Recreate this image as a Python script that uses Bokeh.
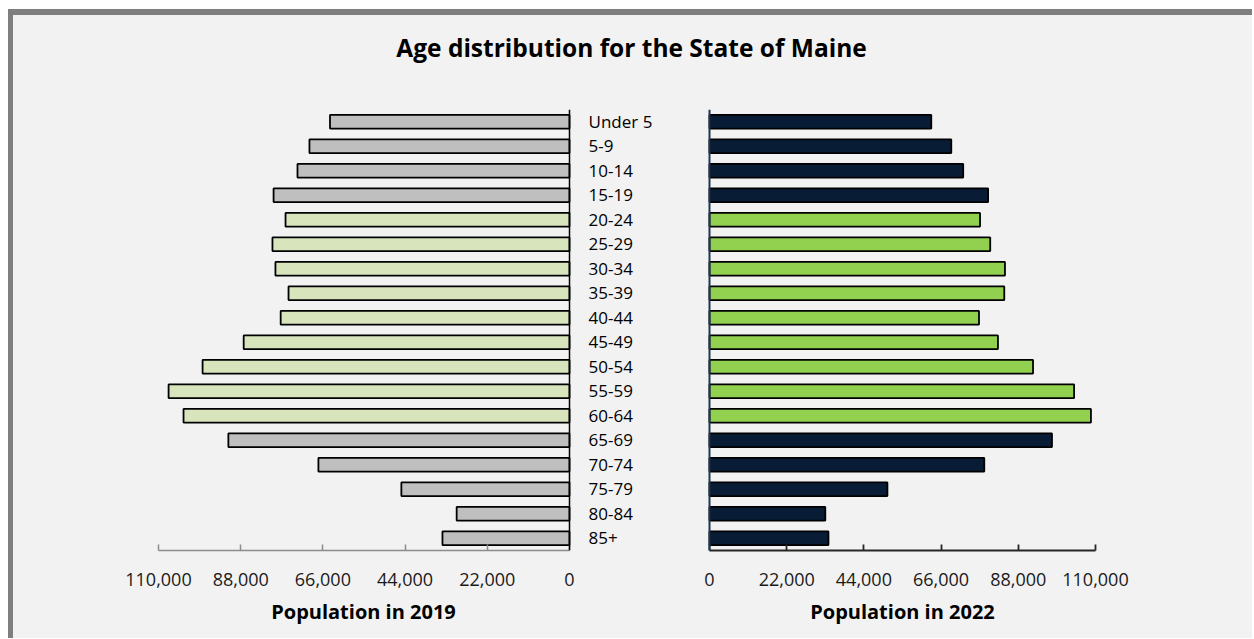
from bokeh.plotting import figure
from bokeh.layouts import column, row
from bokeh.models import Range1d, FactorRange, FixedTicker, NumeralTickFormatter, Span
from bokeh.core.properties import value
from bokeh.embed import file_html
from bokeh.resources import INLINE

# ---- data ----
title_text = "Age distribution for the State of Maine"
ages = ["Under 5", "5-9", "10-14", "15-19", "20-24", "25-29", "30-34", "35-39",
        "40-44", "45-49", "50-54", "55-59", "60-64", "65-69", "70-74", "75-79",
        "80-84", "85+"]
pop_2019 = [64100, 69600, 72800, 79200, 76000, 79500, 78700, 75200, 77300,
            87200, 98200, 107300, 103300, 91300, 67200, 45000, 30200, 34000]
pop_2022 = [63200, 68900, 72300, 79400, 77100, 80000, 84200, 84000, 76800,
            82200, 92200, 103900, 108700, 97600, 78300, 50700, 33000, 33900]
working_age = ["20-24", "25-29", "30-34", "35-39", "40-44", "45-49", "50-54",
               "55-59", "60-64"]
tick_values = [0, 22000, 44000, 66000, 88000, 110000]
label_2019 = "Population in 2019"
label_2022 = "Population in 2022"

BG = "#f2f2f2"
FONT = value("Open Sans")

colors_2019 = ["#d8e4bc" if a in working_age else "#bfbfbf" for a in ages]
colors_2022 = ["#92d050" if a in working_age else "#081c36" for a in ages]

factors = list(reversed(ages))


def base_fig(width, xr, mb_left, mb_right):
    f = figure(width=width, height=529, x_range=xr,
               y_range=FactorRange(factors=factors),
               toolbar_location=None, output_backend="svg",
               y_axis_location=None,
               min_border_left=mb_left, min_border_right=mb_right,
               min_border_top=0, min_border_bottom=88)
    f.background_fill_color = BG
    f.border_fill_color = BG
    f.outline_line_color = None
    f.grid.visible = False
    ax = f.xaxis[0]
    ax.ticker = FixedTicker(ticks=tick_values)
    ax.formatter = NumeralTickFormatter(format="0,0")
    ax.bounds = (0, 110000)
    ax.major_tick_in = 6
    ax.major_tick_out = 0
    ax.minor_tick_line_color = None
    ax.major_label_text_font = "Open Sans"
    ax.major_label_text_font_size = "18px"
    ax.major_label_text_color = "#1a1a1a"
    ax.major_label_standoff = 22
    ax.axis_label_text_font = "Open Sans"
    ax.axis_label_text_font_style = "bold"
    ax.axis_label_text_font_size = "20px"
    ax.axis_label_text_color = "#000000"
    ax.axis_label_standoff = 9
    return f


# ---- left panel (2019) ----
left = base_fig(667, Range1d(start=133285, end=-23017), 58, 25)
left.hbar(y=ages, left=pop_2019, right=0, height=0.56, fill_color=colors_2019,
          line_color="#000000", line_width=1.8)
left.add_layout(Span(location=0, dimension="height", line_color="#000000", line_width=1.5))
lax = left.xaxis[0]
lax.axis_label = label_2019
lax.axis_line_color = "#8c8c8c"
lax.axis_line_width = 1.5
lax.major_tick_line_color = "#8c8c8c"
lax.major_tick_line_width = 1.5
left.text(x=-5085, y=ages, text=ages, text_align="left", text_baseline="middle",
          text_font=FONT, text_font_size="17px", text_color="#000000")

# ---- right panel (2022) ----
right = base_fig(572, Range1d(start=-2565, end=112565), 20, 148)
right.hbar(y=ages, left=0, right=pop_2022, height=0.56, fill_color=colors_2022,
           line_color="#000000", line_width=1.8)
right.add_layout(Span(location=0, dimension="height", line_color="#1f3552", line_width=2))
rax = right.xaxis[0]
rax.axis_label = label_2022
rax.axis_line_color = "#262626"
rax.axis_line_width = 1.8
rax.major_tick_line_color = "#262626"
rax.major_tick_line_width = 1.8

# ---- title ----
tfig = figure(width=1239, height=94, x_range=(0, 1), y_range=(0, 1),
              toolbar_location=None, output_backend="svg",
              x_axis_location=None, y_axis_location=None, min_border=0)
tfig.background_fill_color = BG
tfig.border_fill_color = BG
tfig.outline_line_color = None
tfig.grid.visible = False
tfig.text(x=[0.4988], y=[0.66], text=[title_text], text_align="center",
          text_baseline="middle", text_font=FONT, text_font_style="bold",
          text_font_size="24.5px", text_color="#000000")

layout = column(tfig, row(left, right),
                styles={"border-left": "5px solid #7f7f7f",
                        "border-top": "6px solid #7f7f7f",
                        "background-color": BG,
                        "margin-left": "8px",
                        "margin-top": "9px"})

open("out.html", "w").write(file_html(layout, INLINE))
